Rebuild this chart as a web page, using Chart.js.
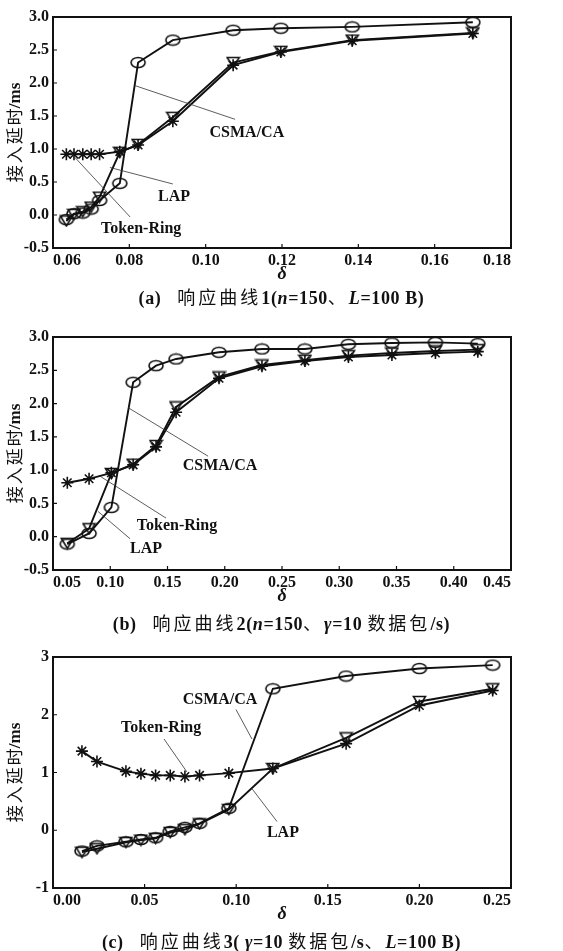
<!DOCTYPE html>
<html>
<head>
<meta charset="utf-8">
<script src="https://cdn.jsdelivr.net/npm/chart.js@4.4.0/dist/chart.umd.min.js"></script>
<style>
  body { margin: 0; background: #fff; width: 563px; height: 951px; position: relative; overflow: hidden; }
  canvas { position: absolute; left: 0; }
  .cap { position: absolute; left: 0; width: 563px; text-align: center; white-space: nowrap;
         font: bold 18px 'Liberation Serif', serif; color: #111; line-height: 20px; letter-spacing: 0.6px; }
  .cap .zh { font-family: 'Noto Sans CJK SC', sans-serif; font-weight: normal; letter-spacing: 3px; }
  .cap .gap { display: inline-block; width: 16px; }
</style>
</head>
<body>
<canvas id="chartA" width="563" height="285" style="top:0"></canvas>
<div class="cap" style="top:286px">(a)<span class="gap"></span><span class="zh">响应曲线</span>1(<i>n</i>=150<span class="zh">、</span><i>L</i>=100 B)</div>
<canvas id="chartB" width="563" height="287" style="top:320px"></canvas>
<div class="cap" style="top:612px">(b)<span class="gap"></span><span class="zh">响应曲线</span>2(<i>n</i>=150<span class="zh">、</span><i>γ</i>=10 <span class="zh">数据包</span>/s)</div>
<canvas id="chartC" width="563" height="285" style="top:640px"></canvas>
<div class="cap" style="top:930px">(c)<span class="gap"></span><span class="zh">响应曲线</span>3( <i>γ</i>=10 <span class="zh">数据包</span>/s<span class="zh">、</span><i>L</i>=100 B)</div>

<script>
// (a) n=150, L=100 B
const deltaA = [0.0635, 0.0655, 0.0678, 0.0700, 0.0722, 0.0775, 0.0823, 0.0914, 0.1072, 0.1197, 0.1384, 0.170];
const csmaA  = [-0.07, 0.02, 0.03, 0.09, 0.22, 0.48, 2.31, 2.65, 2.80, 2.83, 2.85, 2.92];
const lapA   = [-0.09, 0.01, 0.05, 0.12, 0.27, 0.95, 1.07, 1.48, 2.31, 2.48, 2.65, 2.76];
const tokenA = [0.92, 0.92, 0.92, 0.92, 0.92, 0.96, 1.06, 1.42, 2.27, 2.47, 2.64, 2.75];

// (b) n=150, γ=10 数据包/s
const deltaB = [0.0625, 0.0815, 0.101, 0.120, 0.140, 0.1575, 0.195, 0.2325, 0.270, 0.308, 0.346, 0.384, 0.421];
const csmaB  = [-0.11, 0.05, 0.44, 2.32, 2.57, 2.67, 2.77, 2.82, 2.82, 2.89, 2.91, 2.92, 2.90];
const lapB   = [-0.10, 0.12, 0.95, 1.09, 1.37, 1.95, 2.40, 2.58, 2.65, 2.72, 2.76, 2.79, 2.81];
const tokenB = [0.81, 0.87, 0.96, 1.08, 1.35, 1.87, 2.38, 2.56, 2.64, 2.70, 2.73, 2.76, 2.78];

// (c) γ=10 数据包/s, L=100 B
const deltaC = [0.0158, 0.024, 0.0398, 0.048, 0.056, 0.064, 0.072, 0.080, 0.096, 0.120, 0.160, 0.200, 0.240];
const csmaC  = [-0.36, -0.27, -0.20, -0.16, -0.13, -0.02, 0.05, 0.12, 0.38, 2.45, 2.67, 2.80, 2.86];
const lapC   = [-0.38, -0.32, -0.21, -0.17, -0.14, -0.04, 0.01, 0.11, 0.36, 1.07, 1.60, 2.23, 2.45];
const tokenC = [1.37, 1.19, 1.02, 0.98, 0.95, 0.95, 0.93, 0.95, 0.99, 1.07, 1.50, 2.16, 2.42];

const INK = '#111';
const SERIF = "'Liberation Serif', 'Times New Roman', serif";

// hollow markers drawn once on small canvases
function ellipseMarker() {
  const c = document.createElement('canvas');
  c.width = 18; c.height = 13;
  const g = c.getContext('2d');
  g.strokeStyle = INK; g.lineWidth = 1.6;
  g.beginPath(); g.ellipse(9, 6.5, 7, 5, 0, 0, Math.PI * 2); g.stroke();
  return c;
}
function triangleMarker() {
  const c = document.createElement('canvas');
  c.width = 15; c.height = 13;
  const g = c.getContext('2d');
  g.strokeStyle = INK; g.lineWidth = 1.6;
  g.beginPath(); g.moveTo(1.5, 1.5); g.lineTo(13.5, 1.5); g.lineTo(7.5, 11.5); g.closePath(); g.stroke();
  return c;
}
const circleImg = ellipseMarker();
const triImg = triangleMarker();

// frame, inner ticks, call-out labels and the y title
const framePlugin = {
  id: 'frame',
  afterDatasetsDraw(chart, args, opts) {
    const { ctx, chartArea: a } = chart;
    const x = chart.scales.x, y = chart.scales.y;
    ctx.save();
    ctx.strokeStyle = INK;
    ctx.lineWidth = 1.2;
    ctx.beginPath();
    x.ticks.forEach(t => {
      const px = x.getPixelForValue(t.value);
      ctx.moveTo(px, a.bottom); ctx.lineTo(px, a.bottom - 4);
    });
    y.ticks.forEach(t => {
      const py = y.getPixelForValue(t.value);
      ctx.moveTo(a.left, py); ctx.lineTo(a.left + 4, py);
    });
    ctx.stroke();
    ctx.lineWidth = 2;
    ctx.strokeRect(a.left, a.top, a.width, a.height);

    (opts.notes || []).forEach(n => {
      ctx.lineWidth = 0.8;
      ctx.strokeStyle = '#333';
      ctx.beginPath();
      ctx.moveTo(x.getPixelForValue(n.from[0]), y.getPixelForValue(n.from[1]));
      ctx.lineTo(x.getPixelForValue(n.to[0]), y.getPixelForValue(n.to[1]));
      ctx.stroke();
      ctx.font = 'bold 16px ' + SERIF;
      ctx.fillStyle = INK;
      ctx.textAlign = 'center';
      ctx.textBaseline = 'middle';
      ctx.fillText(n.text, x.getPixelForValue(n.at[0]), y.getPixelForValue(n.at[1]));
    });

    // y title: Chinese part regular, unit bold serif
    ctx.translate(15, (a.top + a.bottom) / 2);
    ctx.rotate(-Math.PI / 2);
    ctx.textBaseline = 'middle';
    ctx.textAlign = 'left';
    ctx.fillStyle = INK;
    const zh = '接入延时', unit = '/ms';
    ctx.font = "17px 'Noto Sans CJK SC'";
    ctx.letterSpacing = '2px';
    const w1 = ctx.measureText(zh).width - 2;
    ctx.font = 'bold 17px ' + SERIF;
    ctx.letterSpacing = '0px';
    const w2 = ctx.measureText(unit).width;
    const start = -(w1 + w2) / 2;
    ctx.font = "17px 'Noto Sans CJK SC'";
    ctx.letterSpacing = '2px';
    ctx.fillText(zh, start, 0);
    ctx.font = 'bold 17px ' + SERIF;
    ctx.letterSpacing = '0px';
    ctx.fillText(unit, start + w1, 1);
    ctx.restore();
  }
};

function pairs(xs, ys) {
  return xs.map((v, i) => ({ x: v, y: ys[i] }));
}

function buildDatasets(xs, csma, lap, token) {
  const common = {
    borderColor: INK, borderWidth: 1.9, fill: false, tension: 0,
    pointBackgroundColor: 'rgba(0,0,0,0)', pointBorderColor: INK, pointBorderWidth: 1.6
  };
  return [
    { ...common, label: 'CSMA/CA', data: pairs(xs, csma), pointStyle: circleImg, pointRadius: 6 },
    { ...common, label: 'LAP', data: pairs(xs, lap), pointStyle: triImg, pointRadius: 6 },
    { ...common, label: 'Token-Ring', data: pairs(xs, token), pointStyle: 'star', pointRadius: 6 }
  ];
}

function makeChart(id, datasets, xAxis, yAxis, notes) {
  const tickFont = { family: SERIF, size: 16, weight: 'bold' };
  return new Chart(document.getElementById(id), {
    type: 'line',
    data: { datasets },
    options: {
      responsive: false,
      animation: false,
      devicePixelRatio: 1,
      layout: { padding: { top: 17, right: 52, left: 0, bottom: 0 } },
      plugins: { legend: { display: false }, tooltip: { enabled: false }, frame: { notes } },
      scales: {
        x: {
          type: 'linear', min: xAxis.min, max: xAxis.max,
          grid: { display: false, drawTicks: false }, border: { display: false },
          ticks: { stepSize: xAxis.step, align: 'inner', maxRotation: 0, padding: 3, color: INK,
                   font: tickFont, callback: v => v.toFixed(2) },
          title: { display: true, text: 'δ', color: INK, padding: { top: 0, bottom: 0 },
                   font: { family: SERIF, size: 18, style: 'italic', weight: 'bold' } },
          afterFit: s => { s.height = 37; }
        },
        y: {
          min: yAxis.min, max: yAxis.max,
          grid: { display: false, drawTicks: false }, border: { display: false },
          ticks: { stepSize: yAxis.step, padding: 4, color: INK, font: tickFont,
                   callback: v => v.toFixed(yAxis.digits) },
          afterFit: s => { s.width = 53; }
        }
      }
    },
    plugins: [framePlugin]
  });
}

makeChart('chartA', buildDatasets(deltaA, csmaA, lapA, tokenA),
  { min: 0.06, max: 0.18, step: 0.02 },
  { min: -0.5, max: 3, step: 0.5, digits: 1 },
  [
    { text: 'CSMA/CA', at: [0.1108, 1.25], from: [0.0815, 1.96], to: [0.1077, 1.45] },
    { text: 'LAP', at: [0.0917, 0.27], from: [0.0749, 0.72], to: [0.0914, 0.47] },
    { text: 'Token-Ring', at: [0.0831, -0.21], from: [0.0645, 0.95], to: [0.0802, -0.03] }
  ]);

makeChart('chartB', buildDatasets(deltaB, csmaB, lapB, tokenB),
  { min: 0.05, max: 0.45, step: 0.05 },
  { min: -0.5, max: 3, step: 0.5, digits: 1 },
  [
    { text: 'CSMA/CA', at: [0.1959, 1.06], from: [0.1155, 1.94], to: [0.1854, 1.21] },
    { text: 'Token-Ring', at: [0.1583, 0.16], from: [0.091, 0.91], to: [0.1487, 0.28] },
    { text: 'LAP', at: [0.1312, -0.18], from: [0.0893, 0.38], to: [0.1173, -0.03] }
  ]);

makeChart('chartC', buildDatasets(deltaC, csmaC, lapC, tokenC),
  { min: 0, max: 0.25, step: 0.05 },
  { min: -1, max: 3, step: 1, digits: 0 },
  [
    { text: 'CSMA/CA', at: [0.0912, 2.26], from: [0.0999, 2.09], to: [0.1086, 1.58] },
    { text: 'Token-Ring', at: [0.059, 1.78], from: [0.0606, 1.58], to: [0.0731, 1.01] },
    { text: 'LAP', at: [0.1255, -0.05], from: [0.1223, 0.15], to: [0.1086, 0.72] }
  ]);
</script>
</body>
</html>
